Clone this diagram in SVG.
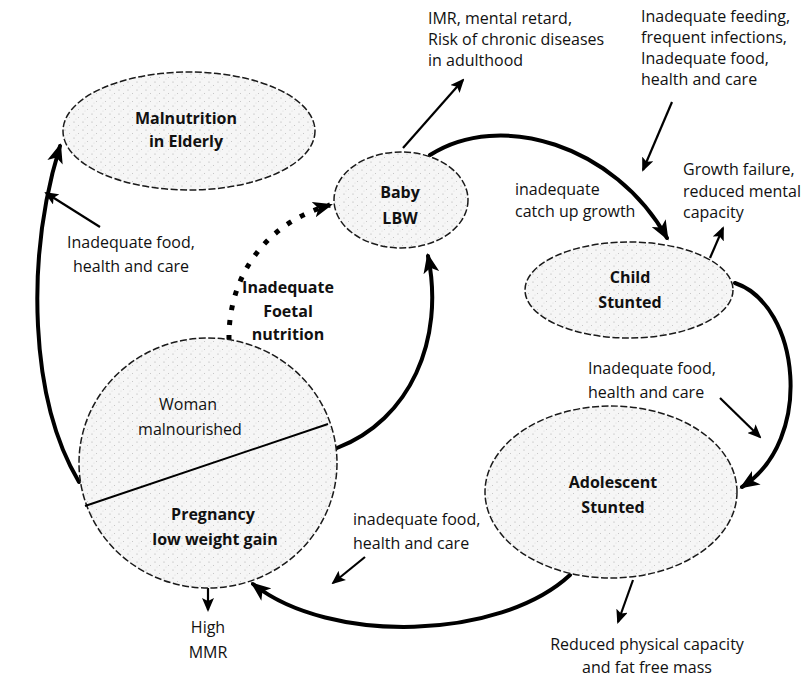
<svg xmlns="http://www.w3.org/2000/svg" width="810" height="680" viewBox="0 0 810 680">
  <defs>
    <!-- speckled tint used inside the nodes -->
    <pattern id="stipple" width="9" height="8" patternUnits="userSpaceOnUse">
      <rect width="9" height="8" fill="#f6f6f6"/>
      <circle cx="2" cy="2" r="0.6" fill="#a8a8a8"/>
      <circle cx="6.5" cy="5.5" r="0.5" fill="#b8b8b8"/>
      <circle cx="4" cy="7" r="0.4" fill="#c4c4c4"/>
    </pattern>
    <marker id="bigHead" viewBox="0 0 20 16" refX="17" refY="8" markerWidth="20" markerHeight="16" markerUnits="userSpaceOnUse" orient="auto">
      <path d="M0,0 L20,8 L0,16 L5,8 z" fill="#000"/>
    </marker>
    <marker id="smallHead" viewBox="0 0 14 12" refX="12" refY="6" markerWidth="14" markerHeight="12" markerUnits="userSpaceOnUse" orient="auto">
      <path d="M0,0 L14,6 L0,12 L3,6 z" fill="#000"/>
    </marker>
    <style>
      .node { fill: url(#stipple); stroke: #1a1a1a; stroke-width: 1.5; stroke-dasharray: 7 2.5; }
      .thick { fill: none; stroke: #000; stroke-width: 4; stroke-linecap: round; marker-end: url(#bigHead); }
      .dotted { fill: none; stroke: #000; stroke-width: 5; stroke-dasharray: 5 10; marker-end: url(#bigHead); }
      .thin { fill: none; stroke: #000; stroke-width: 2.2; marker-end: url(#smallHead); }
      text { font-family: "Open Sans", "Liberation Sans", sans-serif; font-size: 16px; fill: #111; }
      .title { font-weight: bold; font-size: 16px; text-anchor: middle; }
      .mid { text-anchor: middle; }
    </style>
  </defs>

  <rect width="810" height="680" fill="#fff"/>

  <!-- cycle connectors and side-effect arrows -->
  <g id="connectors">
    <path class="thick" d="M79,482 C30,400 25,260 60,146"/>
    <path class="thick" d="M337,448 C410,420 445,340 428,256"/>
    <path class="dotted" d="M229,340 C228,280 262,224 330,205"/>
    <path class="thick" d="M430,155 C500,110 615,145 667,238"/>
    <path class="thick" d="M735,283 C800,305 815,440 742,487"/>
    <path class="thick" d="M570,575 C500,640 330,645 253,584"/>

    <path class="thin" d="M403,148 L463,80"/>
    <path class="thin" d="M672,102 L643,170"/>
    <path class="thin" d="M710,258 L723,228"/>
    <path class="thin" d="M720,398 L760,437"/>
    <path class="thin" d="M365,557 L333,583"/>
    <path class="thin" d="M633,580 L618,622"/>
    <path class="thin" d="M100,227 L46,193"/>
    <path class="thin" d="M208,562 L208,610"/>
  </g>

  <g id="elderly">
    <ellipse class="node" cx="189" cy="131" rx="126" ry="59"/>
    <text class="title" x="186" y="124">Malnutrition</text>
    <text class="title" x="186" y="147">in Elderly</text>
  </g>

  <g id="baby">
    <ellipse class="node" cx="401" cy="200" rx="67" ry="48"/>
    <text class="title" x="400" y="198">Baby</text>
    <text class="title" x="400" y="224">LBW</text>
  </g>

  <g id="child">
    <ellipse class="node" cx="629" cy="290" rx="104" ry="48"/>
    <text class="title" x="630" y="283">Child</text>
    <text class="title" x="630" y="308">Stunted</text>
  </g>

  <g id="adolescent">
    <ellipse class="node" cx="611" cy="492" rx="126" ry="86"/>
    <text class="title" x="613" y="488">Adolescent</text>
    <text class="title" x="613" y="513">Stunted</text>
  </g>

  <g id="woman">
    <ellipse class="node" cx="208" cy="463" rx="129" ry="125"/>
    <line x1="85" y1="506" x2="328" y2="424" stroke="#000" stroke-width="2"/>
    <text class="mid" x="188" y="410">Woman</text>
    <text class="mid" x="190" y="435">malnourished</text>
    <text class="title" x="213" y="520">Pregnancy</text>
    <text class="title" x="215" y="545">low weight gain</text>
  </g>

  <!-- labels -->
  <g id="labels">
    <text x="428" y="24">IMR, mental retard,</text>
    <text x="428" y="45">Risk of chronic diseases</text>
    <text x="428" y="66">in adulthood</text>

    <text x="641" y="22">Inadequate feeding,</text>
    <text x="641" y="43">frequent infections,</text>
    <text x="641" y="64">Inadequate food,</text>
    <text x="641" y="85">health and care</text>

    <text x="515" y="195">inadequate</text>
    <text x="515" y="217">catch up growth</text>

    <text x="683" y="175">Growth failure,</text>
    <text x="683" y="197">reduced mental</text>
    <text x="683" y="218">capacity</text>

    <text x="588" y="374">Inadequate food,</text>
    <text x="588" y="398">health and care</text>

    <text x="353" y="525">inadequate food,</text>
    <text x="353" y="549">health and care</text>

    <text class="mid" x="647" y="650">Reduced physical capacity</text>
    <text class="mid" x="647" y="673">and fat free mass</text>

    <text class="mid" x="208" y="633">High</text>
    <text class="mid" x="208" y="658">MMR</text>

    <text class="title" x="288" y="293">Inadequate</text>
    <text class="title" x="288" y="317">Foetal</text>
    <text class="title" x="288" y="340">nutrition</text>

    <text class="mid" x="131" y="248">Inadequate food,</text>
    <text class="mid" x="131" y="272">health and care</text>
  </g>
</svg>
